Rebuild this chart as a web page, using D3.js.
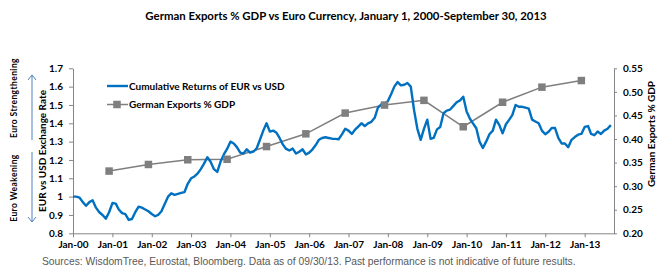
<!DOCTYPE html>
<html>
<head>
<meta charset="utf-8">
<script src="https://cdn.jsdelivr.net/npm/d3@7"></script>
<style>
  body { margin: 0; background: #fff; }
  svg { display: block; }
  .lbl { font-family: Lato, "Open Sans", sans-serif; font-weight: bold; fill: #000; }
</style>
</head>
<body>
<div id="chart"></div>
<script>
// Cumulative returns of EUR vs USD, monthly from Jan 2000 to Sep 2013
const eurUsd = [
  1.00, 1.00, 0.995, 0.97, 0.95, 0.97, 0.98, 0.94, 0.915, 0.90, 0.88, 0.915,
  0.965, 0.962, 0.93, 0.91, 0.905, 0.873, 0.878, 0.915, 0.945, 0.94, 0.93, 0.92,
  0.905, 0.893, 0.90, 0.92, 0.96, 1.00, 1.018, 1.01, 1.015, 1.02, 1.025, 1.07,
  1.10, 1.11, 1.125, 1.15, 1.18, 1.215, 1.19, 1.15, 1.135, 1.19, 1.23, 1.26,
  1.30, 1.29, 1.27, 1.24, 1.235, 1.258, 1.24, 1.245, 1.264, 1.31, 1.36, 1.40,
  1.355, 1.36, 1.35, 1.32, 1.285, 1.26, 1.252, 1.262, 1.235, 1.245, 1.258, 1.23,
  1.24, 1.258, 1.28, 1.31, 1.32, 1.324, 1.32, 1.316, 1.315, 1.313, 1.34, 1.37,
  1.36, 1.342, 1.364, 1.382, 1.40, 1.385, 1.40, 1.408, 1.43, 1.485, 1.503, 1.508,
  1.52, 1.56, 1.60, 1.625, 1.607, 1.61, 1.62, 1.60, 1.47, 1.37, 1.31, 1.37,
  1.42, 1.315, 1.32, 1.367, 1.38, 1.455, 1.469, 1.475, 1.495, 1.515, 1.525, 1.545,
  1.465, 1.425, 1.40, 1.373, 1.30, 1.265, 1.30, 1.34, 1.36, 1.42, 1.39, 1.345,
  1.395, 1.42, 1.445, 1.50, 1.49, 1.49, 1.485, 1.48, 1.42, 1.41, 1.40, 1.36,
  1.34, 1.354, 1.374, 1.374, 1.32, 1.29, 1.29, 1.27, 1.31, 1.325, 1.338, 1.342,
  1.38, 1.385, 1.342, 1.335, 1.355, 1.342, 1.36, 1.37, 1.39
];

// German exports % GDP, one value per year (plotted at December)
const exportYears = [2000, 2001, 2002, 2003, 2004, 2005, 2006, 2007, 2008, 2009, 2010, 2011, 2012];
const exportPct = [0.332, 0.346, 0.356, 0.357, 0.384, 0.411, 0.455, 0.472, 0.482, 0.426, 0.478, 0.510, 0.524];

const leftTicks = [0.8, 0.9, 1.0, 1.1, 1.2, 1.3, 1.4, 1.5, 1.6, 1.7];
const rightTicks = [0.20, 0.25, 0.30, 0.35, 0.40, 0.45, 0.50, 0.55];
const yearTicks = d3.range(2000, 2014);

const legendNames = ["Cumulative Returns of EUR vs USD", "German Exports % GDP"];

const width = 662, height = 271;
const margin = { top: 68.3, right: 48, bottom: 37.7, left: 73 };

const svg = d3.select("#chart").append("svg")
  .attr("width", width)
  .attr("height", height);

const months = d3.timeMonth.range(new Date(2000, 0, 1), new Date(2000, 0 + eurUsd.length, 1));
const eurData = eurUsd.map((v, i) => ({ date: months[i], value: v }));
const expData = exportYears.map((y, i) => ({ date: new Date(y, 11, 1), value: exportPct[i] }));

const x = d3.scaleTime()
  .domain([new Date(2000, 0, 1), new Date(2013, 8, 30)])
  .range([margin.left, width - margin.right]);
const yL = d3.scaleLinear().domain([0.8, 1.7]).range([height - margin.bottom, margin.top]);
const yR = d3.scaleLinear().domain([0.2, 0.55]).range([height - margin.bottom, margin.top]);

const axisColor = "#868686";

// title
svg.append("text")
  .attr("class", "lbl")
  .attr("x", 346).attr("y", 20)
  .attr("text-anchor", "middle")
  .style("font-size", "11.4px")
  .text("German Exports % GDP vs Euro Currency, January 1, 2000-September 30, 2013");

// x axis
const xAxis = svg.append("g")
  .attr("transform", `translate(0,${height - margin.bottom})`)
  .call(d3.axisBottom(x)
    .tickValues(yearTicks.map(y => new Date(y, 0, 1)))
    .tickFormat(d3.timeFormat("Jan-%y"))
    .tickSizeInner(4).tickSizeOuter(0).tickPadding(4));

// left axis
const yAxisL = svg.append("g")
  .attr("transform", `translate(${margin.left},0)`)
  .call(d3.axisLeft(yL)
    .tickValues(leftTicks)
    .tickFormat(d => String(+d.toFixed(1)))
    .tickSizeInner(4).tickSizeOuter(0).tickPadding(6));

// right axis
const yAxisR = svg.append("g")
  .attr("transform", `translate(${width - margin.right},0)`)
  .call(d3.axisRight(yR)
    .tickValues(rightTicks)
    .tickFormat(d3.format(".2f"))
    .tickSizeInner(3).tickSizeOuter(0).tickPadding(6));

[xAxis, yAxisL, yAxisR].forEach(g => {
  g.select(".domain").attr("stroke", axisColor);
  g.selectAll(".tick line").attr("stroke", axisColor);
  g.selectAll(".tick text")
    .attr("class", "lbl")
    .style("font-size", "10px");
});

// axis titles
svg.append("text")
  .attr("class", "lbl")
  .attr("transform", "translate(46,151) rotate(-90)")
  .attr("text-anchor", "middle")
  .style("font-size", "10px")
  .text("EUR vs USD Exchange Rate");

svg.append("text")
  .attr("class", "lbl")
  .attr("transform", "translate(655,134) rotate(-90)")
  .attr("text-anchor", "middle")
  .style("font-size", "10px")
  .text("German Exports % GDP");

svg.append("text")
  .attr("class", "lbl")
  .attr("transform", "translate(17,98) rotate(-90)")
  .attr("text-anchor", "middle")
  .style("font-size", "8.5px")
  .style("letter-spacing", "0.4px")
  .text("Euro Strengthening");

svg.append("text")
  .attr("class", "lbl")
  .attr("transform", "translate(17,188) rotate(-90)")
  .attr("text-anchor", "middle")
  .style("font-size", "8.5px")
  .style("letter-spacing", "0.4px")
  .text("Euro Weakening");

// strengthening / weakening arrows
const arrowColor = "#4f81bd";
const arrows = [[140, 75], [152, 222]];
arrows.forEach(([y0, y1]) => {
  const dir = y1 < y0 ? 1 : -1;
  svg.append("line")
    .attr("x1", 32).attr("x2", 32)
    .attr("y1", y0).attr("y2", y1)
    .attr("stroke", arrowColor).attr("stroke-width", 1);
  svg.append("path")
    .attr("d", `M28,${y1 + dir * 5}L32,${y1}L36,${y1 + dir * 5}`)
    .attr("fill", "none")
    .attr("stroke", arrowColor).attr("stroke-width", 1);
});

// exports line
const lineR = d3.line().x(d => x(d.date)).y(d => yR(d.value));
svg.append("path")
  .datum(expData)
  .attr("d", lineR)
  .attr("fill", "none")
  .attr("stroke", "#7f7f7f")
  .attr("stroke-width", 1.5);

// EUR vs USD line
const lineL = d3.line().x(d => x(d.date)).y(d => yL(d.value));
svg.append("path")
  .datum(eurData)
  .attr("d", lineL)
  .attr("fill", "none")
  .attr("stroke", "#0070c0")
  .attr("stroke-width", 2.4)
  .attr("stroke-linejoin", "round");

// squares on top
svg.selectAll("rect.marker")
  .data(expData)
  .enter()
  .append("rect")
  .attr("class", "marker")
  .attr("x", d => x(d.date) - 3.75)
  .attr("y", d => yR(d.value) - 3.75)
  .attr("width", 7.5).attr("height", 7.5)
  .attr("fill", "#7f7f7f");

// legend
const legend = svg.append("g").attr("transform", "translate(107,86)");
legendNames.forEach((name, i) => {
  const g = legend.append("g").attr("transform", `translate(0,${i * 18.5})`);
  g.append("line")
    .attr("x1", 0).attr("x2", 21)
    .attr("stroke", i === 0 ? "#0070c0" : "#7f7f7f")
    .attr("stroke-width", i === 0 ? 2.4 : 1.5);
  if (i === 1) {
    g.append("rect")
      .attr("x", 6.25).attr("y", -3.75)
      .attr("width", 7.5).attr("height", 7.5)
      .attr("fill", "#7f7f7f");
  }
  g.append("text")
    .attr("class", "lbl")
    .attr("x", 22).attr("y", 3.5)
    .style("font-size", "10px")
    .text(name);
});

// source note
svg.append("text")
  .attr("x", 42).attr("y", 265)
  .style("font-family", "'Liberation Sans', Arial, sans-serif")
  .style("font-size", "10.3px")
  .attr("fill", "#595959")
  .text("Sources: WisdomTree, Eurostat, Bloomberg. Data as of 09/30/13. Past performance is not indicative of future results.");
</script>
</body>
</html>
